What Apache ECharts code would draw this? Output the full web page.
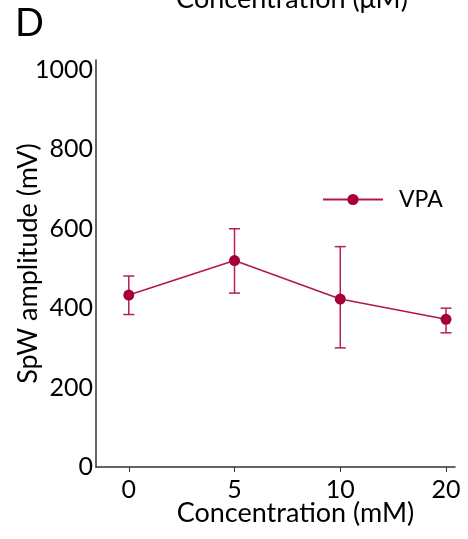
<!DOCTYPE html>
<html>
<head>
<meta charset="utf-8">
<script src="https://cdn.jsdelivr.net/npm/echarts@6/dist/echarts.min.js"></script>
<style>
  html, body { margin: 0; padding: 0; background: #fff; }
  #chart { width: 468px; height: 539px; }
</style>
</head>
<body>
<div id="chart"></div>
<script>
// concentration categories (mM)
const categories = ['0', '5', '10', '20'];
// mean SpW amplitude (mV) and error bar ends
const vpaMean = [433, 520, 423, 372];
const vpaLow = [384, 438, 300, 338];
const vpaHigh = [481, 600, 555, 400];
const yTicks = [0, 200, 400, 600, 800, 1000];

const red = '#A6003A';
const font = 'Lato';

const chart = echarts.init(document.getElementById('chart'));

const lineData = vpaMean.map((v, i) => [i, v]);
const errData = vpaMean.map((v, i) => [i, vpaLow[i], vpaHigh[i]]);

const option = {
    animation: false,
    textStyle: { fontFamily: font },
    graphic: [
        {
            type: 'text', left: 15, top: 5,
            style: { text: 'D', font: '38px Lato', fill: '#000' }
        },
        {
            type: 'text', x: 292, y: -1,
            style: { text: 'Concentration (μM)', font: '27px Lato', fill: '#000', align: 'center', verticalAlign: 'middle' }
        }
    ],
    legend: {
        left: 317, top: 183,
        itemWidth: 60, itemHeight: 14,
        textStyle: { fontSize: 23, color: '#000', padding: [0, 0, 0, 11] },
        data: ['VPA']
    },
    grid: { left: 96, right: 13, top: 60, bottom: 72, containLabel: false, outerBoundsMode: 'none' },
    xAxis: {
        type: 'value',
        min: -0.31, max: 3.085,
        name: 'Concentration (mM)',
        nameLocation: 'middle',
        nameGap: 33,
        nameMoveOverlap: false,
        nameTextStyle: { fontSize: 27, color: '#000', padding: [0, 0, 0, 40] },
        splitLine: { show: false },
        axisLine: { lineStyle: { color: '#333', width: 1.5 } },
        axisTick: { show: true, length: 5, customValues: [0, 1, 2, 3], lineStyle: { color: '#333' } },
        axisLabel: {
            customValues: [0, 1, 2, 3],
            formatter: v => categories[Math.round(v)],
            fontSize: 25, color: '#000', margin: 10
        }
    },
    yAxis: {
        type: 'value',
        min: 0, max: 1025,
        name: 'SpW amplitude (mV)',
        nameLocation: 'middle',
        nameGap: 54,
        nameMoveOverlap: false,
        nameTextStyle: { fontSize: 27, color: '#000' },
        splitLine: { show: false },
        axisLine: { show: true, onZero: false, lineStyle: { color: '#333', width: 1.5 } },
        axisTick: { show: false },
        axisLabel: { customValues: yTicks, formatter: v => String(v), fontSize: 25, color: '#000', margin: 3 }
    },
    series: [
        {
            name: 'VPA',
            type: 'line',
            data: lineData,
            symbol: 'circle',
            symbolSize: 11,
            itemStyle: { color: red },
            lineStyle: { color: '#B01848', width: 1.5 },
            z: 3
        },
        {
            type: 'custom',
            data: errData,
            renderItem: (params, api) => {
                const lo = api.coord([api.value(0), api.value(1)]);
                const hi = api.coord([api.value(0), api.value(2)]);
                const w = 5.5;
                const st = { stroke: '#B8204F', lineWidth: 1.5 };
                return {
                    type: 'group',
                    children: [
                        { type: 'line', shape: { x1: lo[0], y1: lo[1], x2: hi[0], y2: hi[1] }, style: st },
                        { type: 'line', shape: { x1: lo[0] - w, y1: lo[1], x2: lo[0] + w, y2: lo[1] }, style: st },
                        { type: 'line', shape: { x1: hi[0] - w, y1: hi[1], x2: hi[0] + w, y2: hi[1] }, style: st }
                    ]
                };
            },
            z: 2
        }
    ]
};

chart.setOption(option);
</script>
</body>
</html>
